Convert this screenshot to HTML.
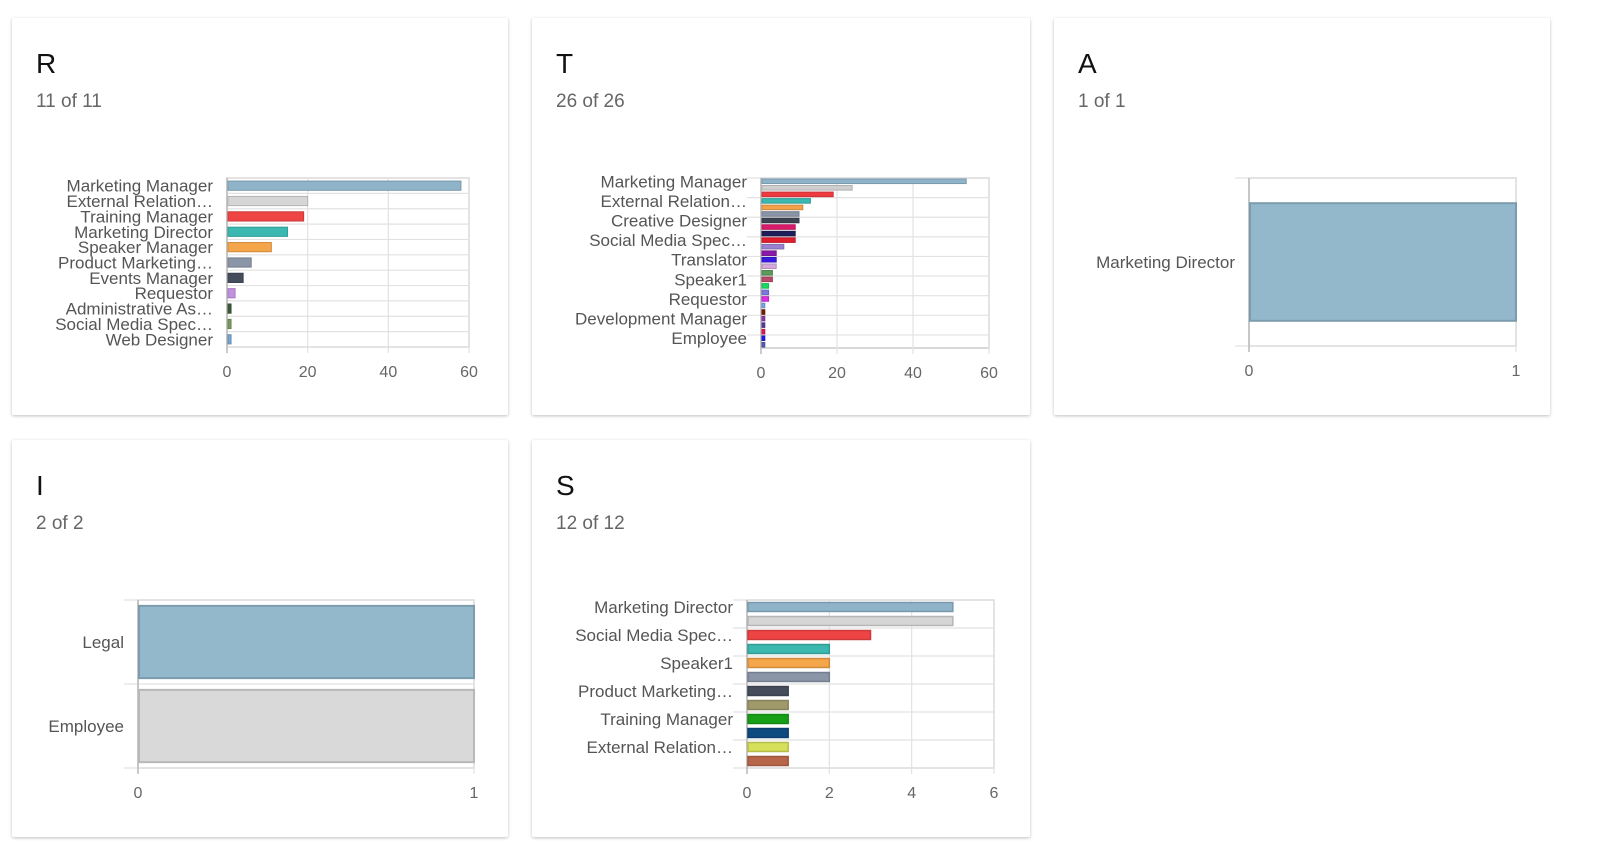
<!DOCTYPE html>
<html><head><meta charset="utf-8">
<style>
html,body{margin:0;padding:0;width:1600px;height:863px;background:#fff;overflow:hidden;font-family:"Liberation Sans",sans-serif;}
.card{position:absolute;background:#fff;box-shadow:0 1px 3px rgba(0,0,0,0.25);border-radius:2px;}
.card h2{position:absolute;left:24px;top:30px;margin:0;font-size:28px;font-weight:normal;color:#111;}
.card .sub{position:absolute;left:24px;top:73px;font-size:19px;color:#666;}
svg#ov{position:absolute;left:0;top:0;}
</style></head><body>
<div class="card" style="left:12px;top:18px;width:496px;height:397px"><h2>R</h2><div class="sub">11 of 11</div></div>
<div class="card" style="left:532px;top:18px;width:498px;height:397px"><h2>T</h2><div class="sub">26 of 26</div></div>
<div class="card" style="left:1054px;top:18px;width:496px;height:397px"><h2>A</h2><div class="sub">1 of 1</div></div>
<div class="card" style="left:12px;top:440px;width:496px;height:397px"><h2>I</h2><div class="sub">2 of 2</div></div>
<div class="card" style="left:532px;top:440px;width:498px;height:397px"><h2>S</h2><div class="sub">12 of 12</div></div>
<svg id="ov" width="1600" height="863" xmlns="http://www.w3.org/2000/svg"></svg>
<script>
const rCategories=["Marketing Manager","External Relation…","Training Manager","Marketing Director","Speaker Manager","Product Marketing…","Events Manager","Requestor","Administrative As…","Social Media Spec…","Web Designer"];
const rValues=[58,20,19,15,11,6,4,2,1,1,1];
const rTicks=[0,20,40,60];
const tLabels=["Marketing Manager","External Relation…","Creative Designer","Social Media Spec…","Translator","Speaker1","Requestor","Development Manager","Employee"];
const tValues=[54,24,19,13,11,10,10,9,9,9,6,4,4,4,3,3,2,2,2,1,1,1,1,1,1,1];
const tTicks=[0,20,40,60];
const aCategories=["Marketing Director"];
const aValues=[1];
const aTicks=[0,1];
const iCategories=["Legal","Employee"];
const iValues=[1,1];
const iTicks=[0,1];
const sLabels=["Marketing Director","Social Media Spec…","Speaker1","Product Marketing…","Training Manager","External Relation…"];
const sValues=[5,5,3,2,2,2,1,1,1,1,1,1];
const sTicks=[0,2,4,6];

const palR=["#8fb3c9","#d6d6d6","#ef4444","#3bb8b0","#f5a54a","#8a95a8","#454c5c","#c191e0","#3d5a3a","#7a9a5e","#78a7d0"];
const palT=["#8fb3c9","#cfcfcf","#ef3b40","#3bb8b0","#f2a24a","#8a95a8","#3d4452","#d81b6a","#1e1e5a","#e01e2e","#9a82d0","#8a1aa8","#3a1ae0","#d4a8d8","#5a9a5a","#b84a6a","#1ad860","#7a7ae0","#d830e0","#7aa8e8","#7a1a0a","#8a3aa8","#5a3aa0","#e01a5a","#1a1ae8","#5a5ab8"];
const palS=["#8fb3c9","#d6d6d6","#ef4444","#3bb8b0","#f5a54a","#8a95a8","#454c5c","#a09a6a","#17a017","#0d4a80","#d6e05a","#b8664a"];
const palA=["#93b8cc"],palI=["#93b8cc","#d9d9d9"];

const NS="http://www.w3.org/2000/svg";
const svg=document.getElementById('ov');
function mk(tag,attrs,parent){const e=document.createElementNS(NS,tag);for(const k in attrs)e.setAttribute(k,attrs[k]);(parent||svg).appendChild(e);return e;}
function darker(c){const n=parseInt(c.slice(1),16);let r=(n>>16)*0.85|0,g=((n>>8)&255)*0.85|0,b=(n&255)*0.85|0;return `rgb(${r},${g},${b})`;}

function chart(name,g){
  const grp=mk('g',{});
  
  
  const n=g.values.length,maxT=g.ticks[g.ticks.length-1];
  const xs=v=>g.x0+(g.x1-g.x0)*v/maxT;
  const rh=(g.y1-g.y0)/n;
  const ys=i=>g.y0+rh*i;
  // frame
  mk('rect',{x:g.x0,y:g.y0,width:g.x1-g.x0,height:g.y1-g.y0,fill:'none',stroke:'#ccc','stroke-width':1.5},grp);
  g.ticks.forEach(t=>{
    const gl=mk('line',{x1:xs(t),x2:xs(t),y1:g.y0,y2:g.y1+6,stroke:'#e2e2e2','stroke-width':1.2},grp);
    
    
    const tl=mk('text',{x:xs(t),y:g.y1+30,'text-anchor':'middle','font-size':16,fill:'#666'},grp);
    tl.textContent=t;
    
    
  });
  const step=g.labelStep||1;
  for(let i=0;i<=n;i+=step){
    const x0=(i%(step)==0 && g.labelExt)?g.x0-g.labelExt:g.x0;
    mk('line',{x1:x0,x2:g.x1,y1:ys(i),y2:ys(i),stroke:'#e2e2e2','stroke-width':1.2},grp);
  }
  mk('line',{x1:g.x0,x2:g.x0,y1:g.y0-(g.topExt||0),y2:g.y1+6,stroke:'#bbb','stroke-width':1.5},grp);
  g.values.forEach((v,i)=>{
    const pad=rh*g.pad;
    const c=g.colors[i%g.colors.length];
    const b=mk('rect',{x:g.x0+1,y:ys(i)+pad,width:Math.max(0,xs(v)-g.x0-1),height:rh-2*pad,fill:c,stroke:darker(c),'stroke-width':g.sw||1},grp);
    
    
  });
  g.labels.forEach((l,k)=>{
    const i=k*step;
    const yc=g.labelCenter?ys(i)+rh/2:ys(i)+rh/2;
    const t=mk('text',{x:g.x0-g.lgap,y:yc+6,'text-anchor':'end','font-size':g.fs||17,fill:'#555'},grp);
    t.textContent=l;
    
    
  });
}
chart('chart-r',{x0:227,x1:469,y0:178,y1:347,values:rValues,labels:rCategories,ticks:rTicks,colors:palR,pad:0.2,lgap:14,fs:17});
chart('chart-t',{x0:761,x1:989,y0:178,y1:348,values:tValues,labels:tLabels,ticks:tTicks,colors:palT,pad:0.15,lgap:14,labelStep:3,labelExt:14,fs:17});
chart('chart-a',{x0:1249,x1:1516,y0:178,y1:346,values:aValues,labels:aCategories,ticks:aTicks,colors:palA,pad:0.15,lgap:14,labelExt:14,sw:2,fs:17});
chart('chart-i',{x0:138,x1:474,y0:600,y1:768,values:iValues,labels:iCategories,ticks:iTicks,colors:palI,pad:0.07,lgap:14,labelExt:14,sw:2,fs:17});
chart('chart-s',{x0:747,x1:994,y0:600,y1:768,values:sValues,labels:sLabels,ticks:sTicks,colors:palS,pad:0.18,lgap:14,labelStep:2,labelExt:14,sw:1.5,fs:17});
</script>
</body></html>
